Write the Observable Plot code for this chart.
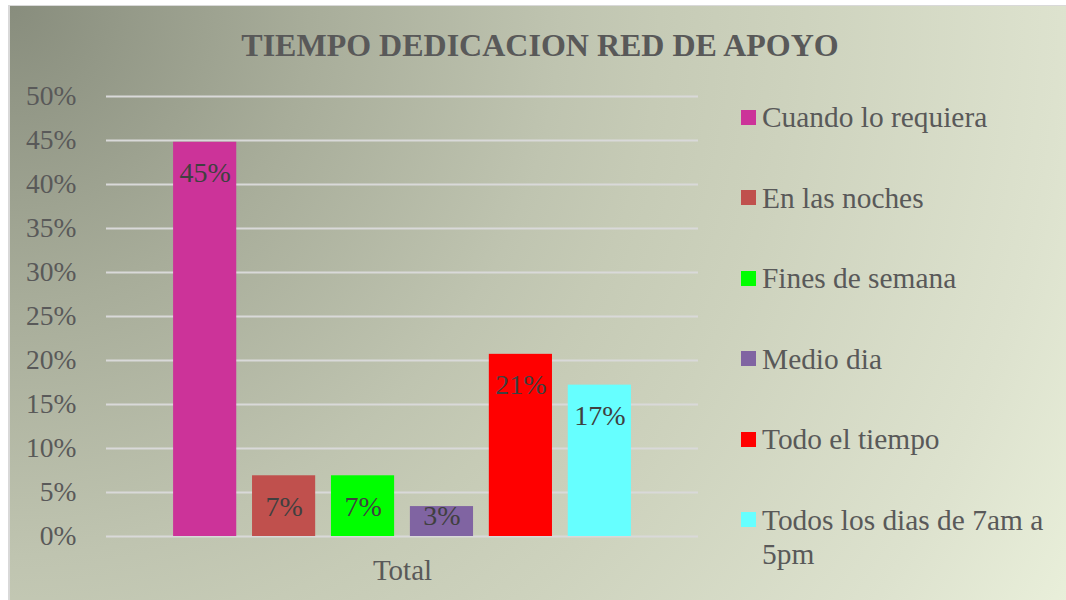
<!DOCTYPE html>
<html>
<head>
<meta charset="utf-8">
<script src="https://cdn.jsdelivr.net/npm/d3@7"></script>
<script src="https://cdn.jsdelivr.net/npm/@observablehq/plot@0.6"></script>
<style>
  html, body { margin: 0; padding: 0; background: #ffffff; }
  #page { position: relative; width: 1066px; height: 600px; overflow: hidden; font-family: "Liberation Serif", "Times New Roman", serif; }
  #bg { position: absolute; left: 8px; top: 5px; width: 1066px; height: 600px; border-left: 2px solid #d9d9d9; border-top: 1px solid #d9d9d9;
        background: radial-gradient(circle at 0px 0px, #888d7d 0px, #a8ad9a 300px, #bfc4b0 550px, #c6cbb6 650px, #cdd2bd 780px, #dde2ce 1050px, #e9efda 1215px); }
  #title { position: absolute; left: 0; width: 1080px; top: 26px; text-align: center; font-weight: bold; font-size: 32px; color: #595959; line-height: 38px; }
  #chart { position: absolute; left: 0; top: 0; }
  #legend { position: absolute; left: 0; top: 0; }
  .item { position: absolute; left: 741px; width: 320px; }
  .sw { position: absolute; left: 0; width: 15px; height: 15px; }
  .lab { position: absolute; left: 21px; width: 296px; font-size: 29.4px; line-height: 34px; color: #595959; }
</style>
</head>
<body>
<div id="page">
  <div id="bg"></div>
  <div id="title"></div>
  <div id="chart"></div>
  <div id="legend"></div>
</div>
<script>
const titleText = "TIEMPO DEDICACION RED DE APOYO";
const groupName = "Total";
const categories = ["Cuando lo requiera", "En las noches", "Fines de semana", "Medio dia", "Todo el tiempo", "Todos los dias de 7am a 5pm"];
const values = [44.8, 6.9, 6.9, 3.4, 20.7, 17.2];
const valueLabels = ["45%", "7%", "7%", "3%", "21%", "17%"];
const colors = ["#CC3399", "#C0504D", "#00FF00", "#8064A2", "#FF0000", "#66FFFF"];
const yTicks = [0, 5, 10, 15, 20, 25, 30, 35, 40, 45, 50];

const data = categories.map((c, i) => ({group: groupName, cat: c, value: values[i], label: valueLabels[i]}));

document.getElementById("title").textContent = titleText;

const font = "'Liberation Serif', 'Times New Roman', serif";
const chart = Plot.plot({
  width: 1066,
  height: 600,
  marginLeft: 106,
  marginRight: 368,
  marginTop: 96,
  marginBottom: 64,
  style: {background: "transparent", fontFamily: font, fontSize: "28px", color: "#595959", overflow: "visible"},
  fx: {padding: 0, domain: [groupName]},
  x: {domain: categories, paddingInner: 0.2, paddingOuter: 0.85, round: false},
  y: {domain: [0, 50]},
  color: {domain: categories, range: colors},
  marks: [
    Plot.gridY(yTicks, {stroke: "#d9d9d9", strokeOpacity: 1, strokeWidth: 2}),
    Plot.axisY(yTicks, {tickSize: 0, tickPadding: 30, tickFormat: d => d + "%", fontSize: 27.5, fill: "#595959", label: null}),
    Plot.axisFx({anchor: "bottom", tickSize: 0, tickPadding: 23, fontSize: 29, fill: "#595959", label: null}),
    Plot.axisX({ticks: [], tickSize: 0, label: null}),
    Plot.barY(data, {fx: "group", x: "cat", y: "value", fill: "cat"}),
    Plot.text(data.filter(d => d.value >= 5), {fx: "group", x: "cat", y: "value", text: "label", dy: 31, fill: "#404040", fontSize: 28, lineAnchor: "middle"}),
    Plot.text(data.filter(d => d.value < 5), {fx: "group", x: "cat", y: "value", text: "label", dy: 9, fill: "#404040", fontSize: 28, lineAnchor: "middle"})
  ]
});
document.getElementById("chart").appendChild(chart);

const legend = document.getElementById("legend");
categories.forEach((c, i) => {
  const cy = 117 + i * 80.5;
  const item = document.createElement("div");
  item.className = "item";
  item.style.top = (cy - 17) + "px";
  const sw = document.createElement("div");
  sw.className = "sw";
  sw.style.top = "9.5px";
  sw.style.background = colors[i];
  const lab = document.createElement("div");
  lab.className = "lab";
  lab.style.top = "0px";
  lab.textContent = c;
  item.appendChild(sw);
  item.appendChild(lab);
  legend.appendChild(item);
});
</script>
</body>
</html>
